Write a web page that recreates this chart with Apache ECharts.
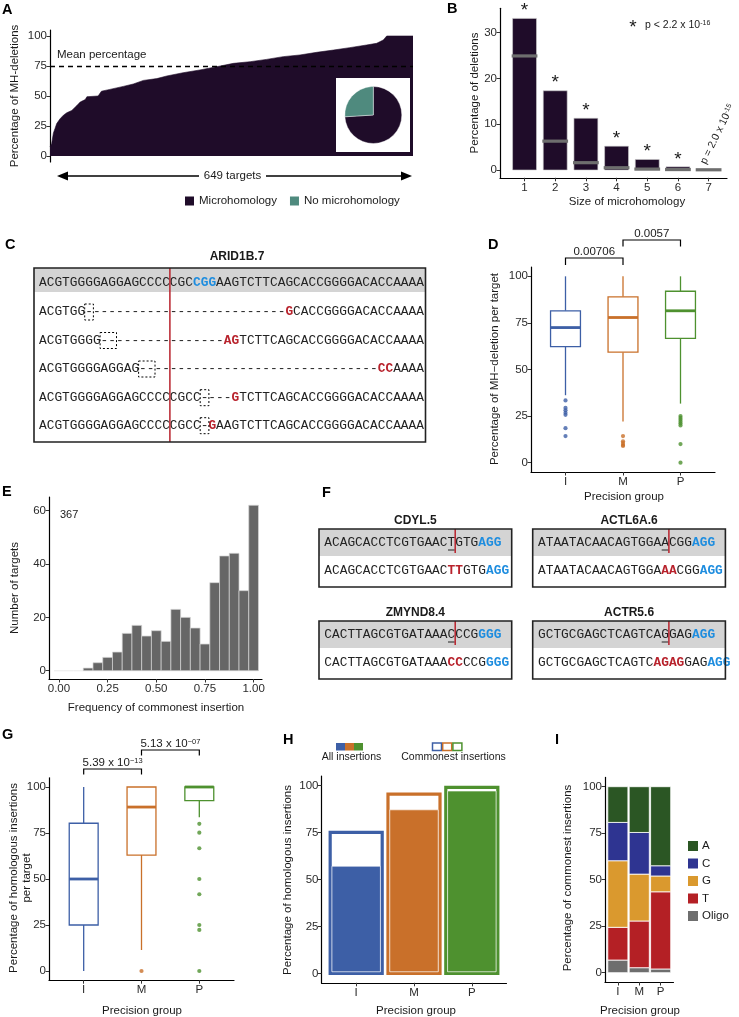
<!DOCTYPE html>
<html>
<head>
<meta charset="utf-8">
<script src="https://cdn.jsdelivr.net/npm/echarts@6/dist/echarts.min.js"></script>
<style>
html,body{margin:0;padding:0;background:#fff;}
#chart{width:739px;height:1017px;}
</style>
</head>
<body>
<div id="chart"></div>
<script>
// ===================== DATA =====================
// Panel A : sorted % of MH-deletions per target (rank, percent)
const aTargetRank = [0,3,6,9,12,18,24,30,39,48,54,63,66,86,92,107,131,149,167,191,209,238,268,298,328,358,387,417,447,477,507,536,566,584,596,602,649];
const aMhPercent  = [7.8,10.5,19,23,27,31,34,36,38,42,45,47,49.4,50,54,55.5,58,60,63,64.5,66.7,69.4,71.7,74.4,77.2,78.6,80.5,82.8,84.2,86.4,88.3,90.3,92.5,93.9,96.7,100,100];
const aMeanPercent = 74.6;
const aTargetCount = 649;
const aPieLabels = ['Microhomology', 'No microhomology'];
const aPieValues = [74, 26];
const pctTicks = [0, 25, 50, 75, 100];

// Panel B : size of microhomology
const bSizes = [1, 2, 3, 4, 5, 6, 7];
const bObserved = [33.1, 17.3, 11.3, 5.2, 2.3, 0.7, 0.1];
const bExpected = [24.9, 6.3, 1.6, 0.5, 0.2, 0.1, 0.05];
const bStar = [1, 1, 1, 1, 1, 1, 0];
const bYTicks = [0, 10, 20, 30];

// Panel C : ARID1B.7 alignment
const cTitle = 'ARID1B.7';
const cRef = 'ACGTGGGGAGGAGCCCCCGCCGGAAGTCTTCAGCACCGGGGACACCAAAA';
const cRefBlue = [20, 21, 22];
const cCut = 17;
const cRows = [
  {seq: 'ACGTGG' + '-'.repeat(26) + 'GCACCGGGGACACCAAAA', red: [32], box: [6, 1]},
  {seq: 'ACGTGGGG' + '-'.repeat(16) + 'AGTCTTCAGCACCGGGGACACCAAAA', red: [24, 25], box: [8, 2]},
  {seq: 'ACGTGGGGAGGAG' + '-'.repeat(31) + 'CCAAAA', red: [44, 45], box: [13, 2]},
  {seq: 'ACGTGGGGAGGAGCCCCCGCC' + '-'.repeat(4) + 'GTCTTCAGCACCGGGGACACCAAAA', red: [25], box: [21, 1]},
  {seq: 'ACGTGGGGAGGAGCCCCCGCC' + '-' + 'GAAGTCTTCAGCACCGGGGACACCAAAA', red: [22], box: [21, 1]}
];

// Panel D : % MH-deletion per target by precision group
const groups = ['I', 'M', 'P'];
const dBoxStats = [[36.2, 62.3, 72.5, 81.5, 100], [22.1, 59.3, 77.9, 89.0, 100], [31.7, 66.7, 81.5, 92.0, 100]];
const dOutliersI = [33.4, 29.4, 28.1, 26.8, 25.7, 18.5, 14.3];
const dOutliersM = [14.3, 11.5, 10.5, 9.5, 9.0];
const dOutliersP = [25, 24, 23, 22, 21, 20, 10, 0];
const dPvalues = ['0.00706', '0.0057'];

// Panel E : histogram of commonest insertion frequency
const eBinCenters = [0, 0.05, 0.1, 0.15, 0.2, 0.25, 0.3, 0.35, 0.4, 0.45, 0.5, 0.55, 0.6, 0.65, 0.7, 0.75, 0.8, 0.85, 0.9, 0.95, 1.0];
const eCounts = [0, 0, 0, 1, 3, 5, 7, 14, 17, 13, 15, 11, 23, 20, 16, 10, 33, 43, 44, 30, 62];
const eBinWidth = 0.05;
const eTotal = 367;
const eXTicks = [0, 0.25, 0.5, 0.75, 1];
const eYTicks = [0, 20, 40, 60];

// Panel F : insertion examples
const fPanels = [
  {title: 'CDYL.5', ref: [['ACAGCACCTCGTGAAC', 'n'], ['T', 'u'], ['GTG', 'n'], ['AGG', 'pam']], ins: [['ACAGCACCTCGTGAAC', 'n'], ['TT', 'mh'], ['GTG', 'n'], ['AGG', 'pam']]},
  {title: 'ACTL6A.6', ref: [['ATAATACAACAGTGGA', 'n'], ['A', 'u'], ['CGG', 'n'], ['AGG', 'pam']], ins: [['ATAATACAACAGTGGA', 'n'], ['AA', 'mh'], ['CGG', 'n'], ['AGG', 'pam']]},
  {title: 'ZMYND8.4', ref: [['CACTTAGCGTGATAAA', 'n'], ['C', 'u'], ['CCG', 'n'], ['GGG', 'pam']], ins: [['CACTTAGCGTGATAAA', 'n'], ['CC', 'mh'], ['CCG', 'n'], ['GGG', 'pam']]},
  {title: 'ACTR5.6', ref: [['GCTGCGAGCTCAGTCA', 'n'], ['G', 'u'], ['GAG', 'n'], ['AGG', 'pam']], ins: [['GCTGCGAGCTCAGTC', 'n'], ['AGAG', 'mh'], ['GAG', 'n'], ['AGG', 'pam']]}
];
const fCut = 17;

// Panel G : % homologous insertions per target
const gBoxStats = [[0, 25, 50, 80.3, 100], [11.4, 63, 89.1, 100, 100], [83.5, 92.6, 100, 100, 100]];
const gOutliersM = [0];
const gOutliersP = [80, 75.2, 66.7, 50, 41.7, 25, 22.3, 0];
const gPvalues = [['5.39 x 10', '\u221213'], ['5.13 x 10', '\u221207']];

// Panel H : % homologous insertions
const hAllInsertions = [57, 87, 97];
const hCommonest = [75, 95.4, 99];

// Panel I : composition of commonest insertions
const iBases = ['A', 'C', 'G', 'T', 'Oligo'];
const iA = [19.2, 24.6, 42.5];
const iC = [20.6, 22.4, 5.5];
const iG = [35.8, 25.2, 8.5];
const iT = [17.6, 25.1, 41.5];
const iOligo = [6.8, 2.7, 2.0];

// ===================== STYLE =====================
const FONT = "'Liberation Sans', Arial, Helvetica, sans-serif";
const MONO = "'Liberation Mono', 'Courier New', monospace";
const DARK = '#1f0c29';
const TEAL = '#4f8a7e';
const GC = ['#3d5fa6', '#c9702a', '#4e912f'];
const BASE_COLORS = {A: '#2b5624', C: '#2e3491', G: '#da992e', T: '#b42025', Oligo: '#6e6e6e'};
const TXT = '#1a1a1a';
const TICK_TXT = '#2b2b2b';
const TICK_FS = 11.5;
const RED = '#b8222c';
const BLUE = '#1e8ddf';

const chart = echarts.init(document.getElementById('chart'));

function yAx(grid, min, max, ticks) {
  return {
    type: 'value', gridIndex: grid, min: min, max: max,
    axisLine: {show: true, onZero: false, lineStyle: {color: '#000', width: 1.2}},
    axisTick: {show: true, length: 3.5, customValues: ticks, lineStyle: {color: '#333', width: 1}},
    axisLabel: {show: true, customValues: ticks, fontSize: TICK_FS, color: TICK_TXT, fontFamily: FONT, margin: 3},
    splitLine: {show: false}
  };
}
function xAx(grid, min, max, ticks, fmt, show) {
  return {
    type: 'value', gridIndex: grid, min: min, max: max, show: show !== false,
    axisLine: {show: true, onZero: false, lineStyle: {color: '#000', width: 1.2}},
    axisTick: {show: true, length: 3.5, customValues: ticks, lineStyle: {color: '#333', width: 1}},
    axisLabel: {show: true, customValues: ticks, fontSize: TICK_FS, color: TICK_TXT, fontFamily: FONT, margin: 4, formatter: fmt},
    splitLine: {show: false}
  };
}
const fmtGroup = v => groups[Math.round(v) - 1] || '';

const grids = [
  {left: 50, top: 30, width: 363, height: 132},          // 0 A
  {left: 500, top: 8.3, width: 227, height: 169.5},      // 1 B
  {left: 531, top: 267, width: 184, height: 205},        // 2 D
  {left: 49, top: 497, width: 213, height: 182},         // 3 E
  {left: 49, top: 777.8, width: 185, height: 202.4},     // 4 G
  {left: 321.5, top: 776, width: 185, height: 206.8},    // 5 H
  {left: 605, top: 777.4, width: 68.5, height: 204.6}    // 6 I
].map(g => Object.assign({containLabel: false, outerBoundsMode: 'none'}, g));

const xAxes = [
  xAx(0, 0, aTargetCount, [], null, false),
  xAx(1, 0.2, 7.6, bSizes, v => String(v)),
  xAx(2, 0.4, 3.6, [1, 2, 3], fmtGroup),
  xAx(3, -0.051, 1.043, eXTicks, v => v.toFixed(2)),
  xAx(4, 0.4, 3.6, [1, 2, 3], fmtGroup),
  xAx(5, 0.4, 3.6, [1, 2, 3], fmtGroup),
  xAx(6, 0.4, 3.6, [1, 2, 3], fmtGroup)
];
const yAxes = [
  yAx(0, -5, 105, pctTicks),
  yAx(1, -1.7, 35.3, bYTicks),
  yAx(2, -5, 105, pctTicks),
  yAx(3, -3.1, 65.1, eYTicks),
  yAx(4, -5, 105, pctTicks),
  yAx(5, -5, 105, pctTicks),
  yAx(6, -5, 105, pctTicks)
];

function rectBetween(api, x0, y0, x1, y1) {
  const a = api.coord([x0, y0]), b = api.coord([x1, y1]);
  return {x: Math.min(a[0], b[0]), y: Math.min(a[1], b[1]), width: Math.abs(b[0] - a[0]), height: Math.abs(b[1] - a[1])};
}
function boxRenderer(halfW) {
  return function (p, api) {
    const x = api.value(0);
    const c = GC[p.dataIndex];
    const lo = api.coord([x, api.value(1)]), q1 = api.coord([x, api.value(2)]), med = api.coord([x, api.value(3)]),
      q3 = api.coord([x, api.value(4)]), hi = api.coord([x, api.value(5)]);
    const hw = api.size([halfW, 0])[0];
    return {type: 'group', children: [
      {type: 'line', shape: {x1: lo[0], y1: lo[1], x2: q1[0], y2: q1[1]}, style: {stroke: c, lineWidth: 1.3}},
      {type: 'line', shape: {x1: q3[0], y1: q3[1], x2: hi[0], y2: hi[1]}, style: {stroke: c, lineWidth: 1.3}},
      {type: 'rect', shape: {x: q1[0] - hw, y: q3[1], width: 2 * hw, height: q1[1] - q3[1]}, style: {fill: '#fff', stroke: c, lineWidth: 1.3}},
      {type: 'line', shape: {x1: med[0] - hw, y1: med[1], x2: med[0] + hw, y2: med[1]}, style: {stroke: c, lineWidth: 2.8}}
    ]};
  };
}
function outlierSeries(xi, yi, gi, vals) {
  return {type: 'scatter', xAxisIndex: xi, yAxisIndex: yi, data: vals.map(v => [gi + 1, v]), symbol: 'circle', symbolSize: 4.2,
    itemStyle: {color: GC[gi]}, silent: true, z: 4, clip: false};
}

const series = [];
// A: area of sorted percentages + mean line
series.push({
  type: 'line', xAxisIndex: 0, yAxisIndex: 0, data: aTargetRank.map((r, i) => [r, aMhPercent[i]]),
  symbol: 'none', lineStyle: {width: 0.6, color: DARK}, areaStyle: {color: DARK, opacity: 1}, itemStyle: {color: DARK},
  silent: true, z: 2,
  markLine: {silent: true, symbol: 'none', label: {show: false}, lineStyle: {type: [5, 4], color: '#000', width: 1.3},
    data: [{yAxis: aMeanPercent}]}
});
series.push({
  type: 'pie', center: [373.3, 115], radius: 28.5, startAngle: 90, clockwise: true, z: 10, silent: true,
  label: {show: false}, labelLine: {show: false}, emphasis: {disabled: true},
  itemStyle: {borderColor: '#fff', borderWidth: 0.4},
  data: aPieLabels.map((n, i) => ({name: n, value: aPieValues[i], itemStyle: {color: [DARK, TEAL][i]}}))
});
// B: observed bars with stars, expected grey lines
series.push({
  type: 'custom', xAxisIndex: 1, yAxisIndex: 1, clip: false, silent: true, z: 2,
  data: bSizes.map((s, i) => [s, bObserved[i], bStar[i]]),
  renderItem: (p, api) => {
    const x = api.value(0), v = api.value(1);
    const r = rectBetween(api, x - 0.39, v, x + 0.39, 0);
    const ch = [{type: 'rect', shape: r, style: {fill: DARK, stroke: '#cfcfcf', lineWidth: 0.6}}];
    if (api.value(2)) ch.push({type: 'text', x: r.x + r.width / 2, y: r.y - 7.5,
      style: {text: '*', fontSize: 19, fontFamily: FONT, fill: TXT, align: 'center', verticalAlign: 'middle', textAlign: 'center', textVerticalAlign: 'middle'}});
    return {type: 'group', children: ch};
  }
});
series.push({
  type: 'custom', xAxisIndex: 1, yAxisIndex: 1, clip: false, silent: true, z: 3,
  data: bSizes.map((s, i) => [s, bExpected[i]]),
  renderItem: (p, api) => {
    const x = api.value(0), v = api.value(1);
    const l = api.coord([x - 0.42, v]), r = api.coord([x + 0.42, v]);
    return {type: 'rect', shape: {x: l[0], y: l[1] - 1.6, width: r[0] - l[0], height: 3.2}, style: {fill: '#6e6e6e'}};
  }
});
// D: boxplots
series.push({type: 'custom', xAxisIndex: 2, yAxisIndex: 2, clip: false, silent: true, z: 3,
  data: dBoxStats.map((s, i) => [i + 1].concat(s)), renderItem: boxRenderer(0.26)});
series.push(outlierSeries(2, 2, 0, dOutliersI));
series.push(outlierSeries(2, 2, 1, dOutliersM));
series.push(outlierSeries(2, 2, 2, dOutliersP));
// E: histogram
series.push({type: 'custom', xAxisIndex: 3, yAxisIndex: 3, clip: false, silent: true, z: 2,
  data: eBinCenters.map((c, i) => [c, eCounts[i]]),
  renderItem: (p, api) => {
    const c = api.value(0), n = api.value(1);
    const r = rectBetween(api, c - eBinWidth / 2, n, c + eBinWidth / 2, 0);
    return {type: 'rect', shape: r, style: {fill: n > 0 ? '#666666' : 'none', stroke: n > 0 ? '#d6d6d6' : '#ececec', lineWidth: 0.7}};
  }
});
// G: boxplots
series.push({type: 'custom', xAxisIndex: 4, yAxisIndex: 4, clip: false, silent: true, z: 3,
  data: gBoxStats.map((s, i) => [i + 1].concat(s)), renderItem: boxRenderer(0.25)});
series.push(outlierSeries(4, 4, 1, gOutliersM));
series.push(outlierSeries(4, 4, 2, gOutliersP));
// H: commonest (outline) and all insertions (filled)
series.push({type: 'custom', xAxisIndex: 5, yAxisIndex: 5, clip: false, silent: true, z: 2,
  data: hCommonest.map((v, i) => [i + 1, v]),
  renderItem: (p, api) => {
    const x = api.value(0), v = api.value(1);
    const r = rectBetween(api, x - 0.45, v, x + 0.45, 0);
    return {type: 'rect', shape: r, style: {fill: '#fff', stroke: GC[p.dataIndex], lineWidth: 3.2}};
  }
});
series.push({type: 'custom', xAxisIndex: 5, yAxisIndex: 5, clip: false, silent: true, z: 3,
  data: hAllInsertions.map((v, i) => [i + 1, v]),
  renderItem: (p, api) => {
    const x = api.value(0), v = api.value(1);
    const r = rectBetween(api, x - 0.45, v, x + 0.45, 0);
    return {type: 'rect', shape: {x: r.x + 1.8, y: r.y, width: r.width - 3.6, height: r.height - 1.6},
      style: {fill: GC[p.dataIndex], stroke: 'rgba(255,255,255,0.75)', lineWidth: 0.8}};
  }
});
// I: stacked composition
const iValues = {A: iA, C: iC, G: iG, T: iT, Oligo: iOligo};
const iStackOrder = ['Oligo', 'T', 'G', 'C', 'A'];
const iCum = [0, 0, 0];
iStackOrder.forEach(b => {
  const d = iValues[b].map((v, k) => { const row = [k + 1, iCum[k], iCum[k] + v]; iCum[k] += v; return row; });
  series.push({type: 'custom', name: b, xAxisIndex: 6, yAxisIndex: 6, clip: false, silent: true, z: 2,
    itemStyle: {color: BASE_COLORS[b]}, data: d,
    renderItem: (p, api) => {
      const x = api.value(0);
      const r = rectBetween(api, x - 0.47, api.value(2), x + 0.47, api.value(1));
      return {type: 'rect', shape: r, style: {fill: BASE_COLORS[b], stroke: '#fff', lineWidth: 0.8}};
    }
  });
});

chart.setOption({
  animation: false,
  backgroundColor: '#fff',
  textStyle: {fontFamily: FONT},
  grid: grids,
  xAxis: xAxes,
  yAxis: yAxes,
  legend: [
    {data: aPieLabels, left: 183, top: 194.5, orient: 'horizontal', icon: 'rect', itemWidth: 11, itemHeight: 11, itemGap: 11,
      selectedMode: false, padding: 0, textStyle: {fontSize: 11.5, color: TXT, fontFamily: FONT, padding: [0, 0, 0, -1]}},
    {data: iBases, left: 688, top: 840, orient: 'vertical', icon: 'rect', itemWidth: 10, itemHeight: 10, itemGap: 5.5,
      selectedMode: false, padding: 0, textStyle: {fontSize: 11.5, color: TXT, fontFamily: FONT, padding: [0, 0, 0, -1]}}
  ],
  series: series
});

// ===================== ANNOTATIONS (graphic) =====================
const gfx = [];
function T(x, y, text, o) {
  o = o || {};
  const st = {text: text, fill: o.fill || TXT, fontSize: o.size || 11.5, fontFamily: o.family || FONT, fontWeight: o.weight || 'normal',
    align: o.align || 'center', verticalAlign: o.va || 'middle', textAlign: o.align || 'center', textVerticalAlign: o.va || 'middle'};
  if (o.rich) st.rich = o.rich;
  if (o.lineHeight) st.lineHeight = o.lineHeight;
  gfx.push({type: 'text', x: x, y: y, rotation: o.rot || 0, z: o.z || 100, silent: true, style: st});
}
function L(x1, y1, x2, y2, o) {
  o = o || {};
  gfx.push({type: 'line', z: o.z || 100, silent: true, shape: {x1: x1, y1: y1, x2: x2, y2: y2},
    style: {stroke: o.stroke || '#000', lineWidth: o.w || 1.2, lineDash: o.dash || null}});
}
function R(x, y, w, h, o) {
  o = o || {};
  gfx.push({type: 'rect', z: o.z || 100, silent: true, shape: {x: x, y: y, width: w, height: h},
    style: {fill: o.fill || 'none', stroke: o.stroke || 'none', lineWidth: o.w || 1, lineDash: o.dash || null}});
}
function PG(points, o) {
  o = o || {};
  gfx.push({type: 'polygon', z: o.z || 100, silent: true, shape: {points: points}, style: {fill: o.fill || '#000'}});
}
function PL(points, o) {
  o = o || {};
  gfx.push({type: 'polyline', z: o.z || 100, silent: true, shape: {points: points}, style: {stroke: o.stroke || '#000', lineWidth: o.w || 1.2, fill: 'none'}});
}
const supRich = (n, s) => ({
  n: {fontSize: n, fontFamily: FONT, fill: TXT},
  s: {fontSize: s, fontFamily: FONT, fill: TXT, verticalAlign: 'top', lineHeight: s + 1}
});

// Panel letters
const letters = [['A', 2, 10], ['B', 447, 9], ['C', 5, 245], ['D', 488, 245], ['E', 2, 492], ['F', 322, 493], ['G', 2, 735], ['H', 283, 740], ['I', 555, 740]];
letters.forEach(l => T(l[1], l[2], l[0], {size: 14.5, weight: 'bold', align: 'left', fill: '#000'}));

// ---- A annotations
T(15, 96, 'Percentage of MH-deletions', {rot: Math.PI / 2});
T(57, 55, 'Mean percentage', {align: 'left'});
R(336, 78, 74, 74, {fill: '#fff', z: 5});
L(65, 176, 199, 176, {w: 1.4});
L(266, 176, 405, 176, {w: 1.4});
PG([[57, 176], [68, 171.5], [68, 180.5]]);
PG([[412, 176], [401, 171.5], [401, 180.5]]);
T(232.5, 176, aTargetCount + ' targets', {size: 11.5});

// ---- B annotations
T(475, 93, 'Percentage of deletions', {rot: Math.PI / 2});
T(627, 202, 'Size of microhomology');
T(633, 28, '*', {size: 19});
T(645, 25, '{n|p < 2.2 x 10}{s|-16}', {align: 'left', rich: supRich(10.5, 7)});
T(708, 166, '{n|p = 2.0 x 10}{s|-15}', {align: 'left', va: 'bottom', rot: 64 * Math.PI / 180, rich: supRich(10.5, 7)});

// ---- C: ARID1B.7 alignment
const CW = 7.7, CFS = CW / 0.6;
function seqRuns(x0, y, seq, styleAt) {
  let start = 0;
  for (let i = 1; i <= seq.length; i++) {
    if (i === seq.length || styleAt(i) !== styleAt(start)) {
      const st = styleAt(start);
      const fill = st === 'mh' ? RED : (st === 'pam' ? BLUE : '#222');
      const bold = st === 'mh' || st === 'pam';
      T(x0 + start * CW, y, seq.slice(start, i), {align: 'left', family: MONO, size: CFS, fill: fill, weight: bold ? 'bold' : 'normal'});
      start = i;
    }
  }
}
T(237, 257, cTitle, {size: 12, weight: 'bold'});
const cBox = {x: 34, y: 268, w: 391.5, h: 174, head: 24};
const cX0 = 39;
R(cBox.x, cBox.y, cBox.w, cBox.head, {fill: '#d4d4d4', z: 4});
seqRuns(cX0, 283, cRef, i => cRefBlue.indexOf(i) >= 0 ? 'pam' : 'n');
const cRowY = [312, 340.5, 369, 397.7, 425.7];
cRows.forEach((row, k) => {
  seqRuns(cX0, cRowY[k], row.seq, i => row.red.indexOf(i) >= 0 ? 'mh' : 'n');
  R(cX0 + row.box[0] * CW - 0.5, cRowY[k] - 8, row.box[1] * CW + 1, 16, {stroke: '#000', w: 1, dash: [2, 2]});
});
L(cX0 + cCut * CW, cBox.y, cX0 + cCut * CW, cBox.y + cBox.h, {stroke: RED, w: 1.5, z: 101});
R(cBox.x, cBox.y, cBox.w, cBox.h, {stroke: '#222', w: 1.6, z: 102});

// ---- F: insertion examples
const fPos = [[319, 529], [532.7, 529], [319, 621], [532.7, 621]];
fPanels.forEach((pn, k) => {
  const bx = fPos[k][0], by = fPos[k][1], bw = 192.7, bh = 58, hh = 27;
  const x0 = bx + 5.3;
  T(bx + bw / 2, by - 8, pn.title, {size: 12, weight: 'bold'});
  R(bx, by, bw, hh, {fill: '#d4d4d4', z: 4});
  let idx = 0;
  pn.ref.forEach(seg => {
    T(x0 + idx * CW, by + 14, seg[0], {align: 'left', family: MONO, size: CFS, fill: seg[1] === 'pam' ? BLUE : '#222', weight: seg[1] === 'pam' ? 'bold' : 'normal'});
    if (seg[1] === 'u') L(x0 + idx * CW + 0.5, by + 21, x0 + (idx + seg[0].length) * CW - 0.5, by + 21, {stroke: '#222', w: 1});
    idx += seg[0].length;
  });
  idx = 0;
  pn.ins.forEach(seg => {
    const st = seg[1];
    T(x0 + idx * CW, by + 42, seg[0], {align: 'left', family: MONO, size: CFS, fill: st === 'mh' ? RED : (st === 'pam' ? BLUE : '#222'), weight: (st === 'mh' || st === 'pam') ? 'bold' : 'normal'});
    idx += seg[0].length;
  });
  L(x0 + fCut * CW, by, x0 + fCut * CW, by + hh - 3, {stroke: RED, w: 1.5, z: 101});
  R(bx, by, bw, bh, {stroke: '#222', w: 1.6, z: 102});
});

// ---- D annotations
T(495, 369, 'Percentage of MH\u2212deletion per target', {rot: Math.PI / 2});
T(624, 497, 'Precision group');
function bracket(grid, g1, g2, yLine, tick, label, opt) {
  const x1 = chart.convertToPixel({gridIndex: grid}, [g1, 0])[0];
  const x2 = chart.convertToPixel({gridIndex: grid}, [g2, 0])[0];
  PL([[x1, yLine + tick], [x1, yLine], [x2, yLine], [x2, yLine + tick]], {w: 1.2});
  T((x1 + x2) / 2, yLine - 6.5, label, opt || {});
}
bracket(2, 1, 2, 258, 7, dPvalues[0], {size: 11.5});
bracket(2, 2, 3, 240, 6.5, dPvalues[1], {size: 11.5});

// ---- E annotations
T(15, 588, 'Number of targets', {rot: Math.PI / 2});
T(156, 708, 'Frequency of commonest insertion');
T(60, 515, String(eTotal), {align: 'left', size: 11});

// ---- G annotations
T(20, 878, 'Percentage of homologous insertions\nper target', {rot: Math.PI / 2, lineHeight: 13});
T(142, 1011, 'Precision group');
bracket(4, 1, 2, 769, 5.5, '{n|' + gPvalues[0][0] + '}{s|' + gPvalues[0][1] + '}', {rich: supRich(11.5, 7.5)});
bracket(4, 2, 3, 750, 5.5, '{n|' + gPvalues[1][0] + '}{s|' + gPvalues[1][1] + '}', {rich: supRich(11.5, 7.5)});

// ---- H annotations
T(288, 880, 'Percentage of homologous insertions', {rot: Math.PI / 2});
T(416, 1011, 'Precision group');
GC.forEach((c, i) => {
  R(336 + i * 9, 743, 9, 7.5, {fill: c, z: 100});
  R(432.5 + i * 10.2, 743, 9, 7.5, {stroke: c, w: 1.5, fill: '#fff', z: 100});
});
T(351.5, 757, 'All insertions', {size: 10.5});
T(453.5, 757, 'Commonest insertions', {size: 10.5});

// ---- I annotations
T(568, 878, 'Percentage of commonest insertions', {rot: Math.PI / 2});
T(640, 1011, 'Precision group');

chart.setOption({graphic: {elements: gfx}});
</script>
</body>
</html>
